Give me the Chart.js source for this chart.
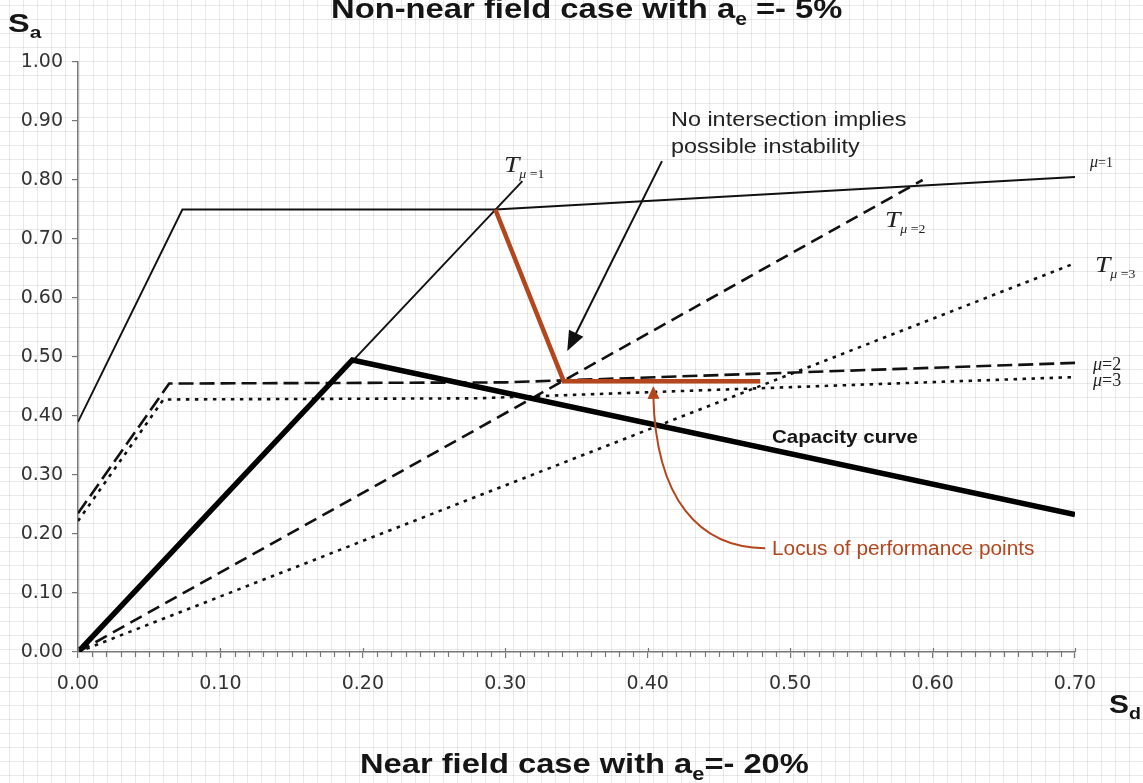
<!DOCTYPE html>
<html>
<head>
<meta charset="utf-8">
<script src="https://cdn.jsdelivr.net/npm/chart.js@4.4.1/dist/chart.umd.min.js"></script>
<style>
html,body{margin:0;padding:0;}
body{width:1143px;height:783px;position:relative;overflow:hidden;background-color:#fff;
background-image:linear-gradient(to right, rgba(0,0,0,0.085) 1px, transparent 1px),linear-gradient(to bottom, rgba(0,0,0,0.085) 1px, transparent 1px);
background-size:14px 14px;background-position:9px 5px;}
#c{position:absolute;left:0;top:0;}
.t{position:absolute;white-space:nowrap;line-height:1;transform-origin:0 0;font-family:"Liberation Sans",Arial,sans-serif;color:#151515;}
.b{font-weight:bold;}
.s{font-family:"Liberation Serif","Times New Roman",serif;font-style:italic;color:#222;}
.up{font-style:normal;}
</style>
</head>
<body>
<canvas id="c" width="1143" height="783"></canvas>

<div class="t b" style="left:331px;top:-5px;font-size:28px;transform:scaleX(1.17);">Non-near field case with a<span style="font-size:18px;vertical-align:-7px;">e</span> =- 5%</div>
<div class="t b" style="left:360px;top:751px;font-size:27px;transform:scaleX(1.21);">Near field case with a<span style="font-size:18px;vertical-align:-7px;">e</span>=- 20%</div>
<div class="t b" style="left:8px;top:11px;font-size:25px;transform:scaleX(1.3);">S<span style="font-size:16px;vertical-align:-6px;">a</span></div>
<div class="t b" style="left:1109px;top:691px;font-size:26px;transform:scaleX(1.15);">S<span style="font-size:17px;vertical-align:-6px;">d</span></div>

<div class="t" style="left:671px;top:110px;font-size:19.5px;transform:scaleX(1.2);color:#222;">No intersection implies</div>
<div class="t" style="left:671px;top:137px;font-size:19.5px;transform:scaleX(1.2);color:#222;">possible instability</div>
<div class="t b" style="left:772px;top:427px;font-size:19px;transform:scaleX(1.08);">Capacity curve</div>
<div class="t" style="left:772px;top:538px;font-size:20px;transform:scaleX(1.04);color:#b4461d;">Locus of performance points</div>

<div class="t s" style="left:504px;top:152px;font-size:24px;transform:scaleX(1.15);">T<span style="font-size:12px;vertical-align:-6px;">μ <span class="up">=1</span></span></div>
<div class="t s" style="left:885px;top:207px;font-size:24px;transform:scaleX(1.15);">T<span style="font-size:12px;vertical-align:-6px;">μ <span class="up">=2</span></span></div>
<div class="t s" style="left:1095px;top:252px;font-size:24px;transform:scaleX(1.15);">T<span style="font-size:12px;vertical-align:-6px;">μ <span class="up">=3</span></span></div>
<div class="t s" style="left:1090px;top:154px;font-size:16px;">μ<span class="up" style="font-size:14px;">=1</span></div>
<div class="t s" style="left:1093px;top:355px;font-size:18px;">μ<span class="up">=2</span></div>
<div class="t s" style="left:1093px;top:371px;font-size:18px;">μ<span class="up">=3</span></div>

<script>
// ---- data ----
const capacityX = [0.00, 0.1926, 0.70];
const capacityY = [0.00, 0.495, 0.233];

const demandMu1X = [0.00, 0.0733, 0.293, 0.70];
const demandMu1Y = [0.39, 0.750, 0.750, 0.805];

const demandMu2X = [0.00, 0.064, 0.30, 0.70];
const demandMu2Y = [0.235, 0.455, 0.457, 0.490];

const demandMu3X = [0.00, 0.060, 0.28, 0.70];
const demandMu3Y = [0.222, 0.428, 0.430, 0.466];

const periodMu1X = [0.00, 0.312];
const periodMu1Y = [0.00, 0.798];

const periodMu2X = [0.00, 0.593];
const periodMu2Y = [0.00, 0.800];

const periodMu3X = [0.00, 0.70];
const periodMu3Y = [0.00, 0.659];

const locusX = [0.293, 0.341, 0.479];
const locusY = [0.750, 0.459, 0.459];

const xTicks = [0.00, 0.10, 0.20, 0.30, 0.40, 0.50, 0.60, 0.70];
const yTicks = [0.00, 0.10, 0.20, 0.30, 0.40, 0.50, 0.60, 0.70, 0.80, 0.90, 1.00];

// annotation arrows (data coordinates)
const instabilityArrowFrom = [0.410, 0.832];
const instabilityArrowTo   = [0.3435, 0.510];
const locusArrowPath = [[0.4825, 0.176], [0.4368, 0.176], [0.4053, 0.257], [0.4039, 0.451]];

const pts = (xs, ys) => xs.map((v, i) => ({x: v, y: ys[i]}));

function arrowHead(ctx, tx, ty, fx, fy, len, half, color) {
  const a = Math.atan2(ty - fy, tx - fx);
  ctx.fillStyle = color;
  ctx.beginPath();
  ctx.moveTo(tx, ty);
  ctx.lineTo(tx - len * Math.cos(a) + half * Math.sin(a), ty - len * Math.sin(a) - half * Math.cos(a));
  ctx.lineTo(tx - len * Math.cos(a) - half * Math.sin(a), ty - len * Math.sin(a) + half * Math.cos(a));
  ctx.closePath();
  ctx.fill();
}

const decor = {
  id: 'decor',
  afterDraw(chart) {
    const {ctx, scales: {x, y}} = chart;
    const X = v => x.getPixelForValue(v), Y = v => y.getPixelForValue(v);
    ctx.save();
    // minor & extended major ticks on the x axis
    const ay = Y(0);
    ctx.strokeStyle = '#777';
    ctx.lineWidth = 1.2;
    for (let i = 1; i < 70; i++) {
      if (i % 10 === 0) continue;
      const px = Math.round(X(i / 100)) + 0.5;
      ctx.beginPath(); ctx.moveTo(px, ay); ctx.lineTo(px, ay + 5); ctx.stroke();
    }
    xTicks.forEach(v => {
      const px = Math.round(X(v)) + 0.5;
      ctx.beginPath(); ctx.moveTo(px, ay - 4); ctx.lineTo(px, ay); ctx.stroke();
    });
    // black arrow
    const fx = X(instabilityArrowFrom[0]), fy = Y(instabilityArrowFrom[1]);
    const tx = X(instabilityArrowTo[0]), ty = Y(instabilityArrowTo[1]);
    const ang = Math.atan2(ty - fy, tx - fx);
    ctx.strokeStyle = '#111';
    ctx.lineWidth = 2;
    ctx.beginPath(); ctx.moveTo(fx, fy); ctx.lineTo(tx - 14 * Math.cos(ang), ty - 14 * Math.sin(ang)); ctx.stroke();
    arrowHead(ctx, tx, ty, fx, fy, 20, 8, '#111');
    // orange curved arrow
    const p = locusArrowPath.map(q => [X(q[0]), Y(q[1])]);
    ctx.strokeStyle = '#b4461d';
    ctx.lineWidth = 2;
    ctx.beginPath();
    ctx.moveTo(p[0][0], p[0][1]);
    ctx.bezierCurveTo(p[1][0], p[1][1], p[2][0], p[2][1], p[3][0], p[3][1] + 8);
    ctx.stroke();
    arrowHead(ctx, p[3][0], p[3][1], p[2][0], p[2][1], 13, 6, '#b4461d');
    ctx.restore();
  }
};

const line = (label, xs, ys, color, width, dash) => ({
  label, data: pts(xs, ys), showLine: true, pointRadius: 0, borderColor: color,
  backgroundColor: color, borderWidth: width, borderDash: dash || [], borderJoinStyle: 'miter', fill: false, tension: 0
});

new Chart(document.getElementById('c'), {
  type: 'scatter',
  data: {
    datasets: [
      line('Locus of performance points', locusX, locusY, '#b4461d', 4.5),
      line('Capacity curve', capacityX, capacityY, '#000', 5.5),
      line('μ=1', demandMu1X, demandMu1Y, '#111', 1.9),
      line('μ=2', demandMu2X, demandMu2Y, '#111', 2.6, [15, 6]),
      line('μ=3', demandMu3X, demandMu3Y, '#111', 2.6, [3.5, 5.5]),
      line('T μ=1', periodMu1X, periodMu1Y, '#111', 1.9),
      line('T μ=2', periodMu2X, periodMu2Y, '#111', 2.6, [13, 7]),
      line('T μ=3', periodMu3X, periodMu3Y, '#111', 2.6, [3.5, 5.5])
    ]
  },
  options: {
    responsive: false,
    animation: false,
    devicePixelRatio: 1,
    layout: {padding: {left: 0, top: 62, right: 68, bottom: 81}},
    plugins: {legend: {display: false}, tooltip: {enabled: false}},
    scales: {
      x: {
        type: 'linear', min: 0, max: 0.7,
        afterFit(s) { s.height = 50; },
        afterBuildTicks(s) { s.ticks = xTicks.map(v => ({value: v})); },
        ticks: {callback: v => v.toFixed(2), font: {family: 'DejaVu Sans', size: 19}, color: '#333', padding: 15, maxRotation: 0, autoSkip: false},
        grid: {drawOnChartArea: false, drawTicks: true, tickLength: 6, color: '#777', lineWidth: 1.2},
        border: {color: '#777', width: 1.5}
      },
      y: {
        type: 'linear', min: 0, max: 1,
        afterFit(s) { s.width = 78; },
        afterBuildTicks(s) { s.ticks = yTicks.map(v => ({value: v})); },
        ticks: {callback: v => v.toFixed(2), font: {family: 'DejaVu Sans', size: 19}, color: '#333', padding: 9, autoSkip: false},
        grid: {drawOnChartArea: false, drawTicks: true, tickLength: 6, color: '#777', lineWidth: 1.2},
        border: {color: '#777', width: 1.5}
      }
    }
  },
  plugins: [decor]
});
</script>
</body>
</html>
